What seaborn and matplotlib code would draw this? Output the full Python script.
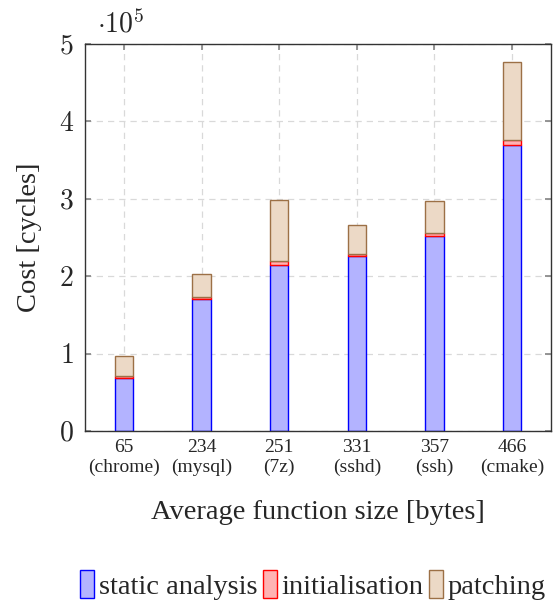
import matplotlib
matplotlib.use("Agg")
import matplotlib.pyplot as plt
import seaborn as sns
import pandas as pd
from matplotlib.patches import Patch
from matplotlib.ticker import FuncFormatter, MultipleLocator

sizes = ["65", "234", "251", "331", "357", "466"]
programs = ["chrome", "mysql", "7z", "sshd", "ssh", "cmake"]
static_analysis = [0.68e5, 1.70e5, 2.14e5, 2.26e5, 2.52e5, 3.69e5]
initialisation = [0.03e5, 0.03e5, 0.06e5, 0.03e5, 0.04e5, 0.07e5]
patching = [0.26e5, 0.30e5, 0.78e5, 0.37e5, 0.41e5, 1.01e5]

sns.set_theme(style="white")
plt.rcParams["font.family"] = ["Liberation Serif", "DejaVu Serif"]
plt.rcParams["mathtext.fontset"] = "cm"

labels = [f"{s}\n({p})" for s, p in zip(sizes, programs)]
df = pd.DataFrame({
    "label": labels,
    "static": static_analysis,
    "init": initialisation,
    "patch": patching,
})
df["base_init"] = df["static"]
df["base_patch"] = df["static"] + df["init"]

fig = plt.figure(figsize=(5.54, 6.06), dpi=100)
ax = fig.add_axes([85 / 554, 175 / 606, 466 / 554, 387 / 606])

layers = [
    ("static", None, "#b3b3ff", "#0000ff"),
    ("init", "base_init", "#ffb3b3", "#ff0000"),
    ("patch", "base_patch", "#ecd9c6", "#9c7046"),
]
for col, base, fc, ec in layers:
    n_before = len(ax.patches)
    sns.barplot(data=df, x="label", y=col, ax=ax, color=fc, width=0.24,
                edgecolor=ec, linewidth=1.0, saturation=1, order=labels)
    if base is not None:
        new = ax.patches[n_before:]
        for rect, b in zip(new, df[base]):
            rect.set_y(b)

ax.set_xlim(-0.5, 5.5)
ax.set_ylim(0, 5e5)
ax.yaxis.set_major_locator(MultipleLocator(1e5))
ax.yaxis.set_major_formatter(FuncFormatter(lambda v, pos: f"${v/1e5:.0f}$"))
ax.set_axisbelow(True)
ax.grid(True, color="#d9d9d9", linestyle=(0, (5, 4)), linewidth=0.9)
for s in ax.spines.values():
    s.set_color("#333333")
    s.set_linewidth(1.0)
ax.tick_params(axis="both", direction="in", length=4, color="#888888",
               top=True, right=True, bottom=True, left=True)
ax.tick_params(axis="y", labelsize=20, pad=8)
ax.tick_params(axis="x", labelsize=14, pad=6)
ax.set_xlabel("Average function size [bytes]", fontsize=20.5, labelpad=17)
ax.set_ylabel("Cost [cycles]", fontsize=20.5, labelpad=12)
ax.text(0.026, 1.031, r"$\cdot 10^5$", transform=ax.transAxes, fontsize=20,
        ha="left", va="baseline")

handles = [
    Patch(facecolor="#b3b3ff", edgecolor="#0000ff", label="static analysis"),
    Patch(facecolor="#ffb3b3", edgecolor="#ff0000", label="initialisation"),
    Patch(facecolor="#ecd9c6", edgecolor="#9c7046", label="patching"),
]
fig.legend(handles=handles, loc="center", bbox_to_anchor=(0.565, 0.035),
           ncol=3, frameon=False, fontsize=20.5, handlelength=0.5,
           handleheight=1.15, handletextpad=0.15, columnspacing=0.2)

fig.savefig("out.png", dpi=100)
